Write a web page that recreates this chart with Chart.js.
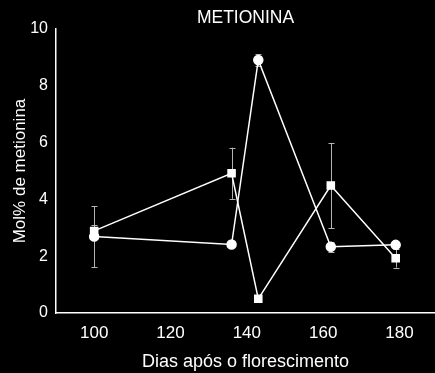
<!DOCTYPE html>
<html>
<head>
<meta charset="utf-8">
<script src="https://cdn.jsdelivr.net/npm/chart.js@4/dist/chart.umd.min.js"></script>
<style>
    html, body { margin: 0; padding: 0; background: #000; }
    #zone { width: 435px; height: 373px; }
</style>
</head>
<body>
<div id="zone"><canvas id="grafico"></canvas></div>
<script>
const dias = [100, 136, 143, 162, 179];
const circulo = [2.69, 2.41, 8.91, 2.33, 2.40];
const circuloErro = [1.07, 0, 0.21, 0.18, 0];
const quadrado = [2.89, 4.92, 0.50, 4.49, 1.93];
const quadradoErro = [0.2, 0.9, 0, 1.5, 0.33];
const ticksX = [100, 120, 140, 160, 180];
const ticksY = [0, 2, 4, 6, 8, 10];

const fonte = "'Liberation Sans', Arial, sans-serif";

// barras de erro desenhadas com as escalas do grafico
const barrasErro = {
    id: 'barrasErro',
    beforeDatasetsDraw(chart) {
        const ctx = chart.ctx;
        const x = chart.scales.x, y = chart.scales.y;
        ctx.save();
        ctx.strokeStyle = '#b4b4b4';
        ctx.lineWidth = 1;
        chart.data.datasets.forEach(ds => {
            ds.data.forEach((p, i) => {
                const e = ds.erros[i];
                if (!e) return;
                const px = Math.round(x.getPixelForValue(p.x)) + 0.5;
                const y1 = y.getPixelForValue(p.y + e);
                const y2 = y.getPixelForValue(p.y - e);
                ctx.beginPath();
                ctx.moveTo(px, y1); ctx.lineTo(px, y2);
                ctx.moveTo(px - 3, Math.round(y1) + 0.5); ctx.lineTo(px + 3, Math.round(y1) + 0.5);
                ctx.moveTo(px - 3, Math.round(y2) + 0.5); ctx.lineTo(px + 3, Math.round(y2) + 0.5);
                ctx.stroke();
            });
        });
        ctx.restore();
    }
};

new Chart(document.getElementById('grafico'), {
    type: 'line',
    data: {
        datasets: [
            {
                label: 'círculo',
                data: dias.map((d, i) => ({ x: d, y: circulo[i] })),
                erros: circuloErro,
                borderColor: '#fff', backgroundColor: '#fff',
                borderWidth: 1.5, pointStyle: 'circle', pointRadius: 4.5
            },
            {
                label: 'quadrado',
                data: dias.map((d, i) => ({ x: d, y: quadrado[i] })),
                erros: quadradoErro,
                borderColor: '#fff', backgroundColor: '#fff',
                borderWidth: 1.5, pointStyle: 'rect', pointRadius: 5
            }
        ]
    },
    options: {
        responsive: true,
        maintainAspectRatio: false,
        animation: false,
        layout: { autoPadding: false, padding: 0 },
        plugins: {
            legend: { display: false },
            tooltip: { enabled: false },
            title: {
                display: true, text: 'METIONINA', color: '#fff', fullSize: false,
                font: { family: fonte, size: 17.5, weight: 'normal' },
                padding: { top: 8, bottom: 0 }
            }
        },
        scales: {
            x: {
                type: 'linear', min: 90, max: 189.3,
                afterBuildTicks: s => { s.ticks = ticksX.map(v => ({ value: v })); },
                afterFit: s => { s.height = 60; },
                grid: { display: false, drawOnChartArea: false, drawTicks: true, tickLength: 5, color: '#fff' },
                border: { color: '#fff', width: 1.5 },
                ticks: { color: '#fff', font: { family: fonte, size: 17 }, padding: 5, maxRotation: 0 },
                title: {
                    display: true, text: 'Dias após o florescimento', color: '#fff',
                    font: { family: fonte, size: 18 }, padding: { top: 4, bottom: 0 }
                }
            },
            y: {
                min: 0, max: 10,
                afterBuildTicks: s => { s.ticks = ticksY.map(v => ({ value: v })); },
                afterFit: s => { s.width = 56; },
                grid: { display: false, drawOnChartArea: false, drawTicks: true, tickLength: 5, color: '#fff' },
                border: { color: '#fff', width: 1.5 },
                ticks: { color: '#fff', font: { family: fonte, size: 16 }, padding: 3 },
                title: {
                    display: true, text: 'Mol% de metionina', color: '#fff',
                    font: { family: fonte, size: 17 }, padding: { top: 10, bottom: 0 }
                }
            }
        }
    },
    plugins: [barrasErro]
});
</script>
</body>
</html>
